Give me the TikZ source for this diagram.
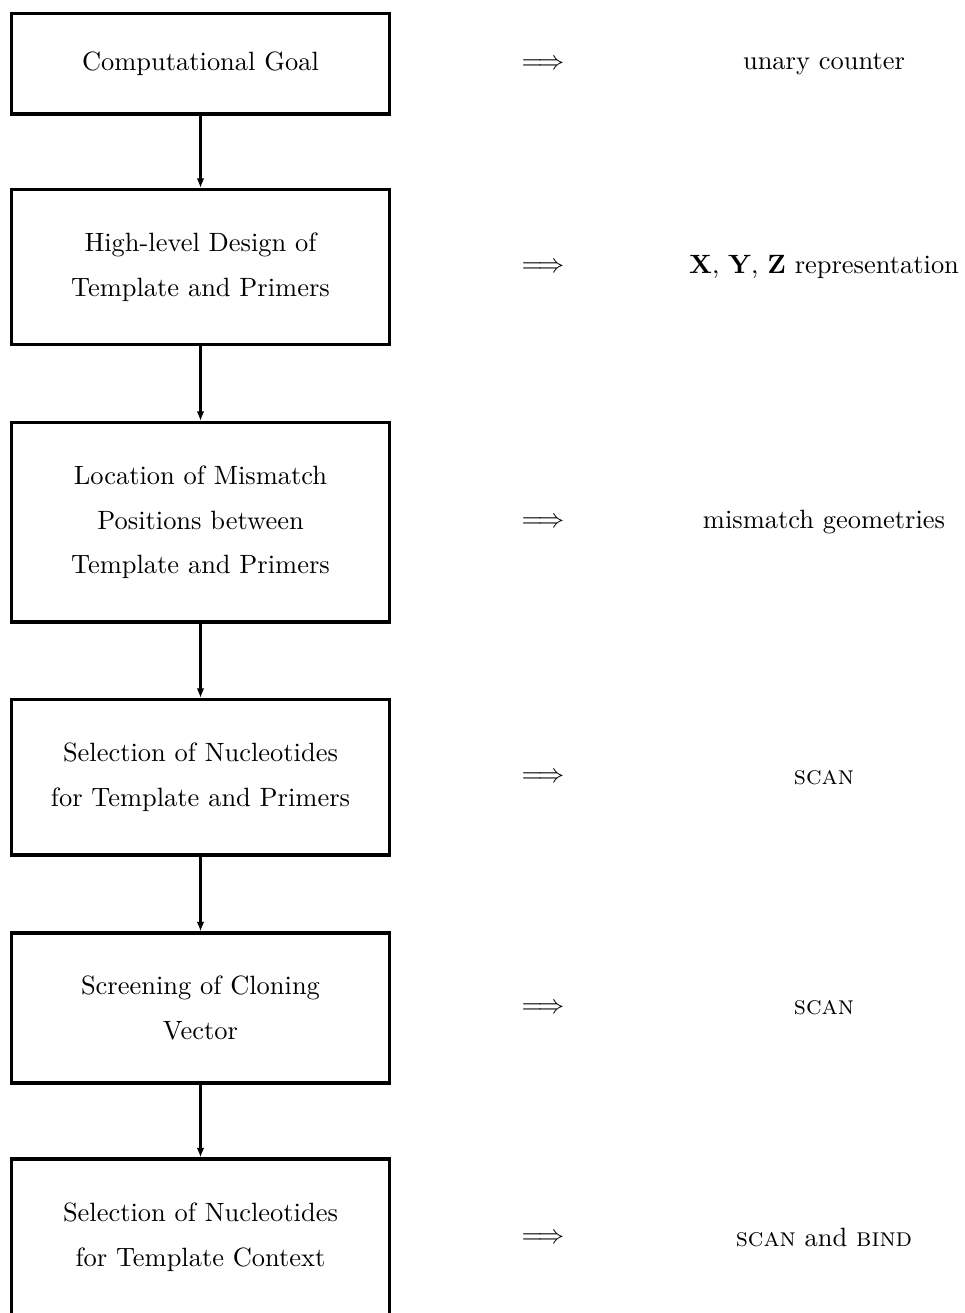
\documentclass[tikz,border=0pt]{standalone}
\usetikzlibrary{arrows.meta}
\begin{document}
\begin{tikzpicture}[x=0.378pt,y=-0.378pt,
  stepbox/.style={draw, line width=1.2pt, minimum width={378*0.378pt}, align=center, inner sep=0pt, font=\fontsize{10}{17}\selectfont},
  flow/.style={line width=0.8pt, -{Latex[length=3.6pt,width=2.9pt]}},
  impl/.style={inner sep=0pt, font=\fontsize{10}{17}\selectfont},
  result/.style={inner sep=0pt, font=\fontsize{10}{17}\selectfont}]
\useasboundingbox (0,0) rectangle (964,1313);
\clip (0,0) rectangle (964,1313);
\node[stepbox, minimum height={100.5*0.378pt}] (b1) at (200.5,63.75) {Computational Goal};
\node[stepbox, minimum height={155*0.378pt}] (b2) at (200.5,267) {High-level Design of\\Template and Primers};
\node[stepbox, minimum height={199.5*0.378pt}] (b3) at (200.5,522.25) {Location of Mismatch\\Positions between\\Template and Primers};
\node[stepbox, minimum height={155.5*0.378pt}] (b4) at (200.5,777.25) {Selection of Nucleotides\\for Template and Primers};
\node[stepbox, minimum height={150*0.378pt}] (b5) at (200.5,1008) {Screening of Cloning\\Vector};
\node[stepbox, minimum height={157*0.378pt}] (b6) at (200.5,1237.5) {Selection of Nucleotides\\for Template Context};
\draw[flow] (b1) -- (b2);
\draw[flow] (b2) -- (b3);
\draw[flow] (b3) -- (b4);
\draw[flow] (b4) -- (b5);
\draw[flow] (b5) -- (b6);
\node[impl] (a1) at (543,64.5) {$\Longrightarrow$};
\node[impl] (a2) at (543,268) {$\Longrightarrow$};
\node[impl] (a3) at (543,523) {$\Longrightarrow$};
\node[impl] (a4) at (543,778) {$\Longrightarrow$};
\node[impl] (a5) at (543,1009) {$\Longrightarrow$};
\node[impl] (a6) at (543,1238.5) {$\Longrightarrow$};
\node[result] (r1) at (824,63.75) {unary counter};
\node[result] (r2) at (824,267) {\textbf{X}, \textbf{Y}, \textbf{Z} representation};
\node[result] (r3) at (824,522.25) {mismatch geometries};
\node[result] (r4) at (824,777.25) {\textsc{scan}};
\node[result] (r5) at (824,1008) {\textsc{scan}};
\node[result] (r6) at (824,1237.5) {\textsc{scan} and \textsc{bind}};
\end{tikzpicture}
\end{document}
